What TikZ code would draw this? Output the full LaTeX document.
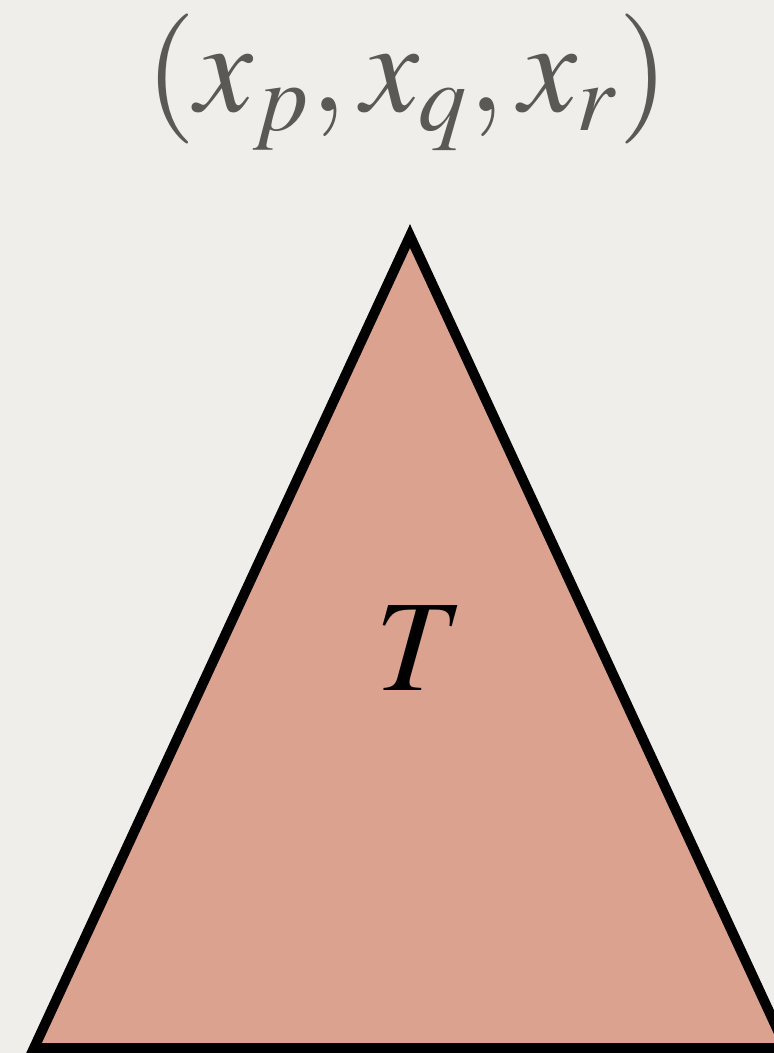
\documentclass[tikz,border=0pt]{standalone}
\usepackage{mathptmx}
\usepackage[no-math]{fontspec}
\setmainfont{Liberation Serif}
\usetikzlibrary{positioning}
\definecolor{paper}{HTML}{EFEEEB}
\definecolor{treefill}{HTML}{DBA290}
\definecolor{labelgray}{HTML}{5B5955}

\begin{document}
\begin{tikzpicture}[x=0.01cm,y=-0.01cm,
   tree/.style={draw=black,line width=0.1cm,fill=treefill,line join=miter},
   bigtext/.style={font=\fontsize{37}{40}\selectfont,inner sep=0pt}]
  % page and background
  \fill[paper] (0,0) rectangle (774,1053);
  \useasboundingbox (0,0) rectangle (774,1053);
  \clip (0,0) rectangle (774,1053);
  % the tree
  \coordinate (top) at (410,236);
  \coordinate (bl) at (34,1048);
  \coordinate (br) at (786,1048);
  \draw[tree] (top) -- (bl) -- (br) -- cycle;
  \node[bigtext,anchor=base] (T) at (420,690) {$T$};
  % root label
  \node[bigtext,labelgray,anchor=base] (root) at (407,111) {$(x_p, x_q, x_r)$};
\end{tikzpicture}
\end{document}
